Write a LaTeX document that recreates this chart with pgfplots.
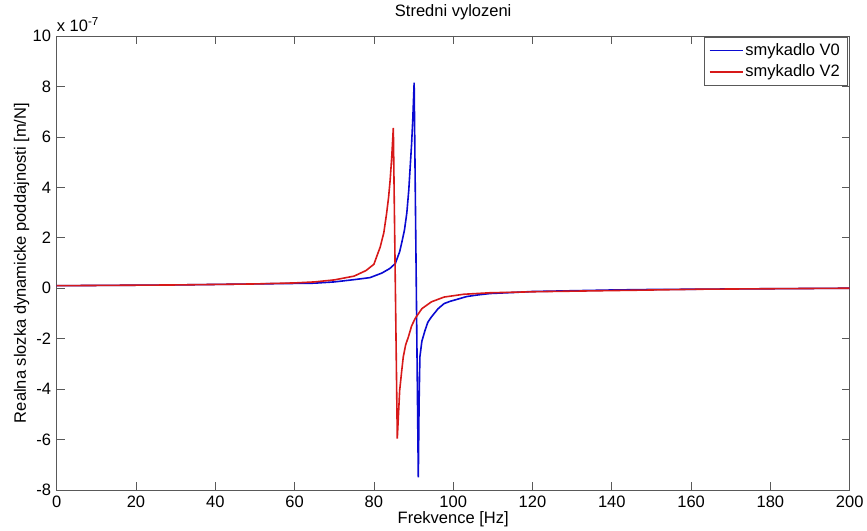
\documentclass[border=0pt]{standalone}
\usepackage{fontspec}
\setmainfont{Liberation Sans}
\usepackage{pgfplots}
\pgfplotsset{compat=1.18}
\usetikzlibrary{calc}
\definecolor{mblue}{RGB}{10,10,210}
\definecolor{mred}{RGB}{215,25,25}
\begin{document}
\fontsize{16.5}{19}\selectfont
\begin{tikzpicture}[font=\fontsize{16.5}{19}\selectfont]
\begin{axis}[
  name=ax,
  scale only axis,
  width=793pt, height=454pt,
  xmin=0, xmax=200, ymin=-8, ymax=10,
  xtick={0,20,...,200}, ytick={-8,-6,...,10},
  scaled ticks=false,
  /pgf/number format/assume math mode=true,
  tick align=inside,
  major tick length=8pt,
  axis line style={black!65, line width=0.8pt},
  every tick/.style={black!65, line width=0.7pt},
  tick label style={font=\fontsize{16.5}{19}\selectfont},
  title={Stredni vylozeni},
  title style={at={(axis description cs:0.5,1)}, anchor=base, yshift=13pt, inner sep=0pt},
  xlabel={Frekvence [Hz]},
  xlabel style={at={(axis description cs:0.5,-0.064)}, anchor=center},
  ylabel={Realna slozka dynamicke poddajnosti [m/N]},
  ylabel style={at={(axis description cs:-0.0441,0.5)}, anchor=center},
  legend style={at={(axis description cs:1,1)}, anchor=north east, xshift=-2.5pt, yshift=-1pt,
    draw=black!65, line width=0.7pt, inner xsep=5pt, inner ysep=4pt,
    font=\fontsize{16.5}{19}\selectfont, cells={anchor=west}, row sep=3pt},
  legend image code/.code={\draw[#1, line width=1.5pt] (0pt,0pt) -- (33pt,0pt);},
]
\addplot[mblue, line width=1.6pt] coordinates {
(0,0.10) (10,0.11) (20,0.12) (30,0.13) (40,0.15) (50,0.17) (60,0.19) (65,0.20)
(70,0.25) (75,0.34) (79,0.42) (82,0.60) (84,0.78) (85.4,0.98) (86.5,1.45)
(87.0,1.79) (87.7,2.3) (88.3,2.98) (88.8,3.9) (89.1,4.68) (89.5,5.7) (89.8,6.67)
(90.15,8.15) (91.2,-7.5) (91.4,-4.5) (91.6,-2.72) (92.1,-2.1) (92.9,-1.67) (93.6,-1.35)
(94.5,-1.14) (96.2,-0.81) (97.7,-0.61) (99.2,-0.52) (101,-0.44) (103.4,-0.33)
(106,-0.27) (109.3,-0.21) (115,-0.17) (120,-0.13) (130,-0.10) (140,-0.07)
(150,-0.05) (160,-0.04) (170,-0.03) (180,-0.02) (190,-0.01) (200,0.0)
};
\addlegendentry{smykadlo V0}
\addplot[mred, line width=1.6pt] coordinates {
(0,0.10) (10,0.11) (20,0.12) (30,0.13) (40,0.15) (50,0.17) (60,0.21) (65,0.25)
(70,0.33) (75,0.48) (78,0.70) (80,0.95) (81.6,1.64) (82.5,2.2) (83.2,2.96)
(83.7,3.6) (84.1,4.29) (84.5,5.2) (84.9,6.36) (85.9,-5.96) (86.5,-4.05)
(87.0,-3.3) (87.4,-2.73) (88.0,-2.25) (88.7,-1.93) (89.5,-1.5) (90.4,-1.2)
(92.1,-0.81) (94.5,-0.54) (97.7,-0.35) (102.6,-0.24) (109.3,-0.18) (115,-0.16)
(120,-0.14) (137,-0.10) (150,-0.07) (162,-0.04) (180,-0.02) (200,0.0)
};
\addlegendentry{smykadlo V2}
\end{axis}
\node[anchor=base west, inner sep=0pt] at ($(ax.north west)+(0pt,4.3pt)$) {x 10\textsuperscript{-7}};
\pgfresetboundingbox
\path ($(ax.south west)+(-56.7pt,-40.7pt)$) rectangle ($(ax.north east)+(17.3pt,36pt)$);
\end{tikzpicture}
\end{document}
